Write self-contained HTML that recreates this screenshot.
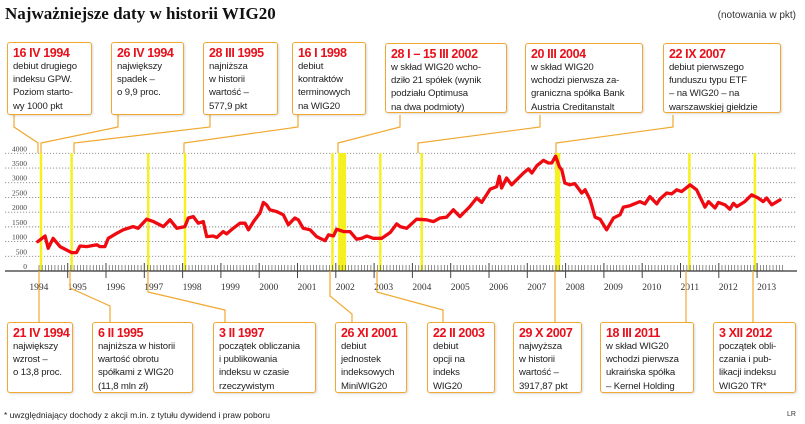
<!DOCTYPE html>
<html><head><meta charset="utf-8">
<style>
body{margin:0;background:#fff;}
#root{position:relative;width:805px;height:424px;overflow:hidden;font-family:"Liberation Sans","DejaVu Sans",sans-serif;background:#fff;}
.title{position:absolute;left:5px;top:4px;font-family:"Liberation Serif",serif;font-weight:bold;font-size:17px;color:#111;}
.unit{position:absolute;right:9px;top:10px;font-size:10px;color:#333;}
.box{position:absolute;box-sizing:border-box;border:1.5px solid #f0a830;border-radius:3px;background:#fff;box-shadow:1px 1px 2px rgba(0,0,0,.15);padding:3px 0 0 5px;font-size:9.6px;line-height:13.2px;color:#222;letter-spacing:-0.15px;white-space:nowrap;}
.box b{display:block;color:#e8101a;font-size:12.5px;line-height:14px;letter-spacing:-0.4px;}
.foot{position:absolute;left:4px;top:410px;font-size:8.5px;color:#222;}
.lr{position:absolute;left:787px;top:411px;font-size:7px;color:#333;}
svg{position:absolute;left:0;top:0;}
</style></head><body>
<div id="root">
<svg id="chart" width="805" height="424"></svg>
<div class="title">Najważniejsze daty w historii WIG20</div>
<div class="unit">(notowania w pkt)</div>

<div class="box" style="left:7px;top:42px;width:85px;height:73px"><b>16 IV 1994</b>debiut drugiego<br>indeksu GPW.<br>Poziom starto-<br>wy 1000 pkt</div>
<div class="box" style="left:111px;top:42px;width:73px;height:73px"><b>26 IV 1994</b>największy<br>spadek –<br>o 9,9 proc.</div>
<div class="box" style="left:203px;top:42px;width:75px;height:73px"><b>28 III 1995</b>najniższa<br>w historii<br>wartość –<br>577,9 pkt</div>
<div class="box" style="left:292px;top:42px;width:74px;height:73px"><b>16 I 1998</b>debiut<br>kontraktów<br>terminowych<br>na WIG20</div>
<div class="box" style="left:385px;top:43px;width:122px;height:70px"><b>28 I – 15 III 2002</b>w skład WIG20 wcho-<br>dziło 21 spółek (wynik<br>podziału Optimusa<br>na dwa podmioty)</div>
<div class="box" style="left:525px;top:43px;width:118px;height:70px"><b>20 III 2004</b>w skład WIG20<br>wchodzi pierwsza za-<br>graniczna spółka Bank<br>Austria Creditanstalt</div>
<div class="box" style="left:663px;top:43px;width:118px;height:70px"><b>22 IX 2007</b>debiut pierwszego<br>funduszu typu ETF<br>– na WIG20 – na<br>warszawskiej giełdzie</div>

<div class="box" style="left:7px;top:322px;width:66px;height:71px"><b>21 IV 1994</b>największy<br>wzrost –<br>o 13,8 proc.</div>
<div class="box" style="left:92px;top:322px;width:101px;height:71px"><b>6 II 1995</b>najniższa w historii<br>wartość obrotu<br>spółkami z WIG20<br>(11,8 mln zł)</div>
<div class="box" style="left:213px;top:322px;width:103px;height:71px"><b>3 II 1997</b>początek obliczania<br>i publikowania<br>indeksu w czasie<br>rzeczywistym</div>
<div class="box" style="left:335px;top:322px;width:72px;height:71px"><b>26 XI 2001</b>debiut<br>jednostek<br>indeksowych<br>MiniWIG20</div>
<div class="box" style="left:427px;top:322px;width:68px;height:71px"><b>22 II 2003</b>debiut<br>opcji na<br>indeks<br>WIG20</div>
<div class="box" style="left:513px;top:322px;width:69px;height:71px"><b>29 X 2007</b>najwyższa<br>w historii<br>wartość –<br>3917,87 pkt</div>
<div class="box" style="left:600px;top:322px;width:94px;height:71px"><b>18 III 2011</b>w skład WIG20<br>wchodzi pierwsza<br>ukraińska spółka<br>– Kernel Holding</div>
<div class="box" style="left:713px;top:322px;width:83px;height:71px"><b>3 XII 2012</b>początek obli-<br>czania i pub-<br>likacji indeksu<br>WIG20 TR*</div>

<div class="foot">* uwzględniający dochody z akcji m.in. z tytułu dywidend i praw poboru</div>
<div class="lr">LR</div>
</div>
<script>
const dates=[1994.22,1994.41,1994.49,1994.62,1994.80,1994.97,1995.10,1995.23,1995.32,1995.50,1995.76,1995.84,1995.97,1996.06,1996.28,1996.45,1996.71,1996.84,1997.06,1997.24,1997.50,1997.67,1997.85,1998.06,1998.15,1998.28,1998.41,1998.54,1998.63,1998.80,1998.89,1999.06,1999.15,1999.32,1999.50,1999.63,1999.72,1999.85,2000.02,2000.11,2000.19,2000.28,2000.46,2000.63,2000.76,2000.93,2001.02,2001.15,2001.33,2001.50,2001.72,2001.81,2001.94,2002.02,2002.20,2002.37,2002.54,2002.68,2002.81,2002.98,2003.20,2003.42,2003.59,2003.68,2003.85,2004.11,2004.37,2004.55,2004.72,2004.89,2005.07,2005.24,2005.50,2005.68,2005.81,2006.03,2006.20,2006.27,2006.33,2006.46,2006.59,2006.72,2006.90,2007.03,2007.12,2007.25,2007.42,2007.55,2007.64,2007.74,2007.84,2007.90,2007.98,2008.11,2008.24,2008.42,2008.51,2008.64,2008.77,2008.90,2009.07,2009.25,2009.42,2009.51,2009.68,2009.94,2010.07,2010.20,2010.38,2010.46,2010.64,2010.77,2010.90,2011.03,2011.25,2011.42,2011.64,2011.73,2011.90,2011.99,2012.16,2012.29,2012.38,2012.47,2012.68,2012.86,2013.03,2013.16,2013.25,2013.38,2013.60];
const values=[1000,1190,770,1110,830,715,625,625,850,830,890,830,830,1110,1280,1400,1510,1450,1760,1680,1510,1740,1450,1510,1800,1850,1625,1680,1170,1190,1140,1340,1260,1450,1625,1625,1400,1680,1970,2330,2250,2080,2020,1910,1570,1800,1740,1450,1400,1170,1030,1230,1190,1420,1340,1340,1080,1110,1190,1110,1110,1310,1600,1510,1450,1760,1740,1680,1800,1830,2080,1850,2190,2480,2330,2780,2870,3220,2820,3160,2930,3100,3330,3470,3330,3580,3760,3670,3670,3900,3530,3440,2990,2930,2970,2650,2760,2420,1830,1760,1400,1800,1910,2170,2220,2360,2280,2530,2280,2440,2650,2620,2760,2700,2930,2760,2170,2360,2140,2330,2250,2100,2300,2190,2360,2590,2480,2360,2480,2250,2420];
const yTicks=[0,500,1000,1500,2000,2500,3000,3500,4000];
const years=[1994,1995,1996,1997,1998,1999,2000,2001,2002,2003,2004,2005,2006,2007,2008,2009,2010,2011,2012,2013];
const bandStarts=[1994.27,1995.07,1997.07,1998.03,2001.88,2002.06,2003.13,2004.21,2007.72,2011.2,2012.91];
const bandEnds=[1994.33,1995.13,1997.11,1998.06,2001.92,2002.27,2003.16,2004.24,2007.86,2011.23,2012.94];
const NS='http://www.w3.org/2000/svg';
const svg=document.getElementById('chart');
const X=t=>106+(t-1996)*38.3;
const Y=v=>271-v*(117.7/4000);
function mk(tag,attrs){const e=document.createElementNS(NS,tag);for(const k in attrs)e.setAttribute(k,attrs[k]);svg.appendChild(e);return e;}
yTicks.forEach(v=>{
  if(v>0){const g=mk('line',{x1:5,x2:797,y1:Y(v),y2:Y(v),stroke:'#888','stroke-width':0.9,'stroke-dasharray':'1.2 1.8'});
  
  }
  const t=mk('text',{x:27,y:Y(v)-2,'text-anchor':'end','font-size':7.5,fill:'#444','font-family':'Liberation Serif, serif'});
  t.textContent=v;
  
  
});
bandStarts.forEach((s,i)=>{
  const r=mk('rect',{x:X(s),y:153,width:Math.max(2.5,X(bandEnds[i])-X(s)),height:118,fill:'#f5f020'});
  
  
});
const ax=mk('line',{x1:5,x2:797,y1:271,y2:271,stroke:'#333','stroke-width':1.3});


for(let m=1994*12+3;m<=2013*12+8;m++){
  const t=m/12, maj=(m%12===0);
  const tk=mk('line',{x1:X(t),x2:X(t),y1:maj?263:265,y2:maj?278:271,stroke:'#444','stroke-width':maj?1:0.6});
  
  
}
years.forEach(y=>{
  const t=mk('text',{x:X(y),y:290,'font-size':9.5,fill:'#333','font-family':'Liberation Serif, serif'});
  t.textContent=y;
  
  
});
const conT=[[14,38],[118,41],[210,74],[298,184],[400,338],[540,418],[673,556]];
conT.forEach(c=>{
  const p=mk('polyline',{points:`${c[0]},115 ${c[0]},127 ${c[1]},143 ${c[1]},153`,fill:'none',stroke:'#f0a830','stroke-width':1.2});
  
  
});
const conB=[[39,39,290],[70,110,288],[148,225,292],[330,352,296],[377,443,292],[555,555,300],[686,686,300],[753,753,300]];
conB.forEach(c=>{
  const p=mk('polyline',{points:`${c[0]},271 ${c[0]},${c[2]} ${c[1]},${c[2]+18} ${c[1]},322`,fill:'none',stroke:'#f0a830','stroke-width':1.2});
  
  
});
const pl=mk('polyline',{points:dates.map((d,i)=>X(d).toFixed(1)+','+Y(values[i]).toFixed(1)).join(' '),fill:'none',stroke:'#ee0a10','stroke-width':3.3,'stroke-linejoin':'round','stroke-linecap':'round'});


</script>
</body></html>
